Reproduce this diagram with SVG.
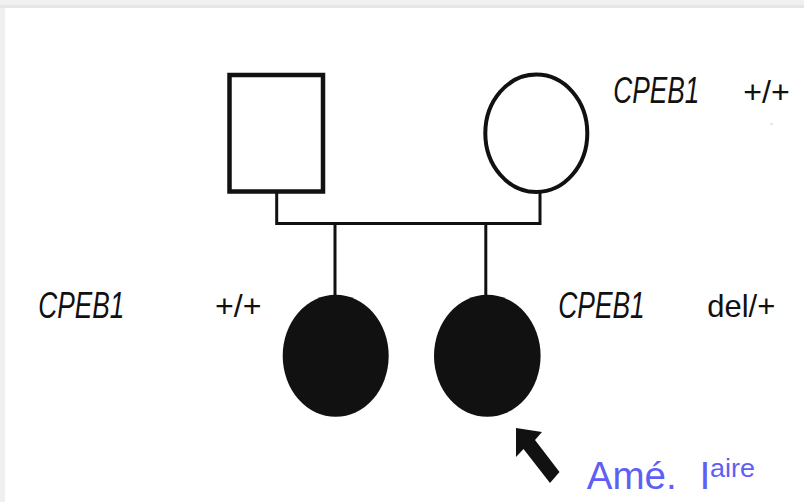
<svg xmlns="http://www.w3.org/2000/svg" width="804" height="502" viewBox="0 0 804 502">
  <style>
    .line { fill: none; stroke: #111; stroke-width: 3; }
    .open { fill: #fff; stroke: #111; }
    .filled { fill: #111; stroke: none; }
    .gene { font-family: "Liberation Sans", sans-serif; font-style: italic; font-size: 36px; fill: #111; }
    .geno { font-family: "Liberation Sans", sans-serif; font-size: 32px; fill: #111; }
    .proband { font-family: "Liberation Sans", sans-serif; fill: #5f5ff5; }
  </style>

  <!-- page frame -->
  <rect x="0" y="0" width="804" height="502" fill="#f0f0f0"/>
  <rect x="0" y="5" width="804" height="3" fill="#e6e6e6"/>
  <rect x="5" y="8" width="799" height="494" fill="#fff"/>

  <!-- connectors -->
  <g id="connectors">
    <polyline class="line" points="276.7,193 276.7,223.5 540,223.5 540,192"/>
    <line class="line" x1="335" y1="223.5" x2="335" y2="298"/>
    <line class="line" x1="485.8" y1="223.5" x2="485.8" y2="298"/>
  </g>

  <!-- father -->
  <g id="father">
    <rect class="open" x="229.5" y="75" width="93.5" height="116.5" stroke-width="4.5"/>
  </g>

  <!-- mother -->
  <g id="mother">
    <ellipse class="open" cx="536.3" cy="133.3" rx="51" ry="58.7" stroke-width="4"/>
    <text class="gene" x="613.3" y="102.7" textLength="86" lengthAdjust="spacingAndGlyphs">CPEB1</text>
    <text class="geno" x="743.3" y="102.7" textLength="46.5" lengthAdjust="spacingAndGlyphs">+/+</text>
    <rect x="770" y="123.5" width="3" height="1" fill="#cfcfcf"/>
  </g>

  <!-- affected daughter (left) -->
  <g id="daughter1">
    <ellipse class="filled" cx="335.7" cy="355.8" rx="53" ry="61"/>
    <text class="gene" x="38.3" y="317.7" textLength="86" lengthAdjust="spacingAndGlyphs">CPEB1</text>
    <text class="geno" x="215" y="317.3" textLength="46.5" lengthAdjust="spacingAndGlyphs">+/+</text>
  </g>

  <!-- affected daughter (right), proband -->
  <g id="daughter2">
    <ellipse class="filled" cx="487.3" cy="355.8" rx="53.3" ry="61"/>
    <text class="gene" x="558.3" y="317.7" textLength="86.5" lengthAdjust="spacingAndGlyphs">CPEB1</text>
    <text class="geno" x="707.3" y="317.3" textLength="68" lengthAdjust="spacingAndGlyphs">del/+</text>
  </g>

  <!-- proband arrow and label -->
  <g id="proband-arrow">
    <polygon class="filled" points="516,428 542,432 535,440 559.5,472 550,483 523.5,449 516,457"/>
    <text class="proband" x="586.7" y="489.3" font-size="39" textLength="90" lengthAdjust="spacingAndGlyphs">Amé.</text>
    <text class="proband" x="699.5" y="489.3" font-size="39">I</text>
    <text class="proband" x="710" y="476.7" font-size="25" textLength="45" lengthAdjust="spacingAndGlyphs">aire</text>
  </g>
</svg>
